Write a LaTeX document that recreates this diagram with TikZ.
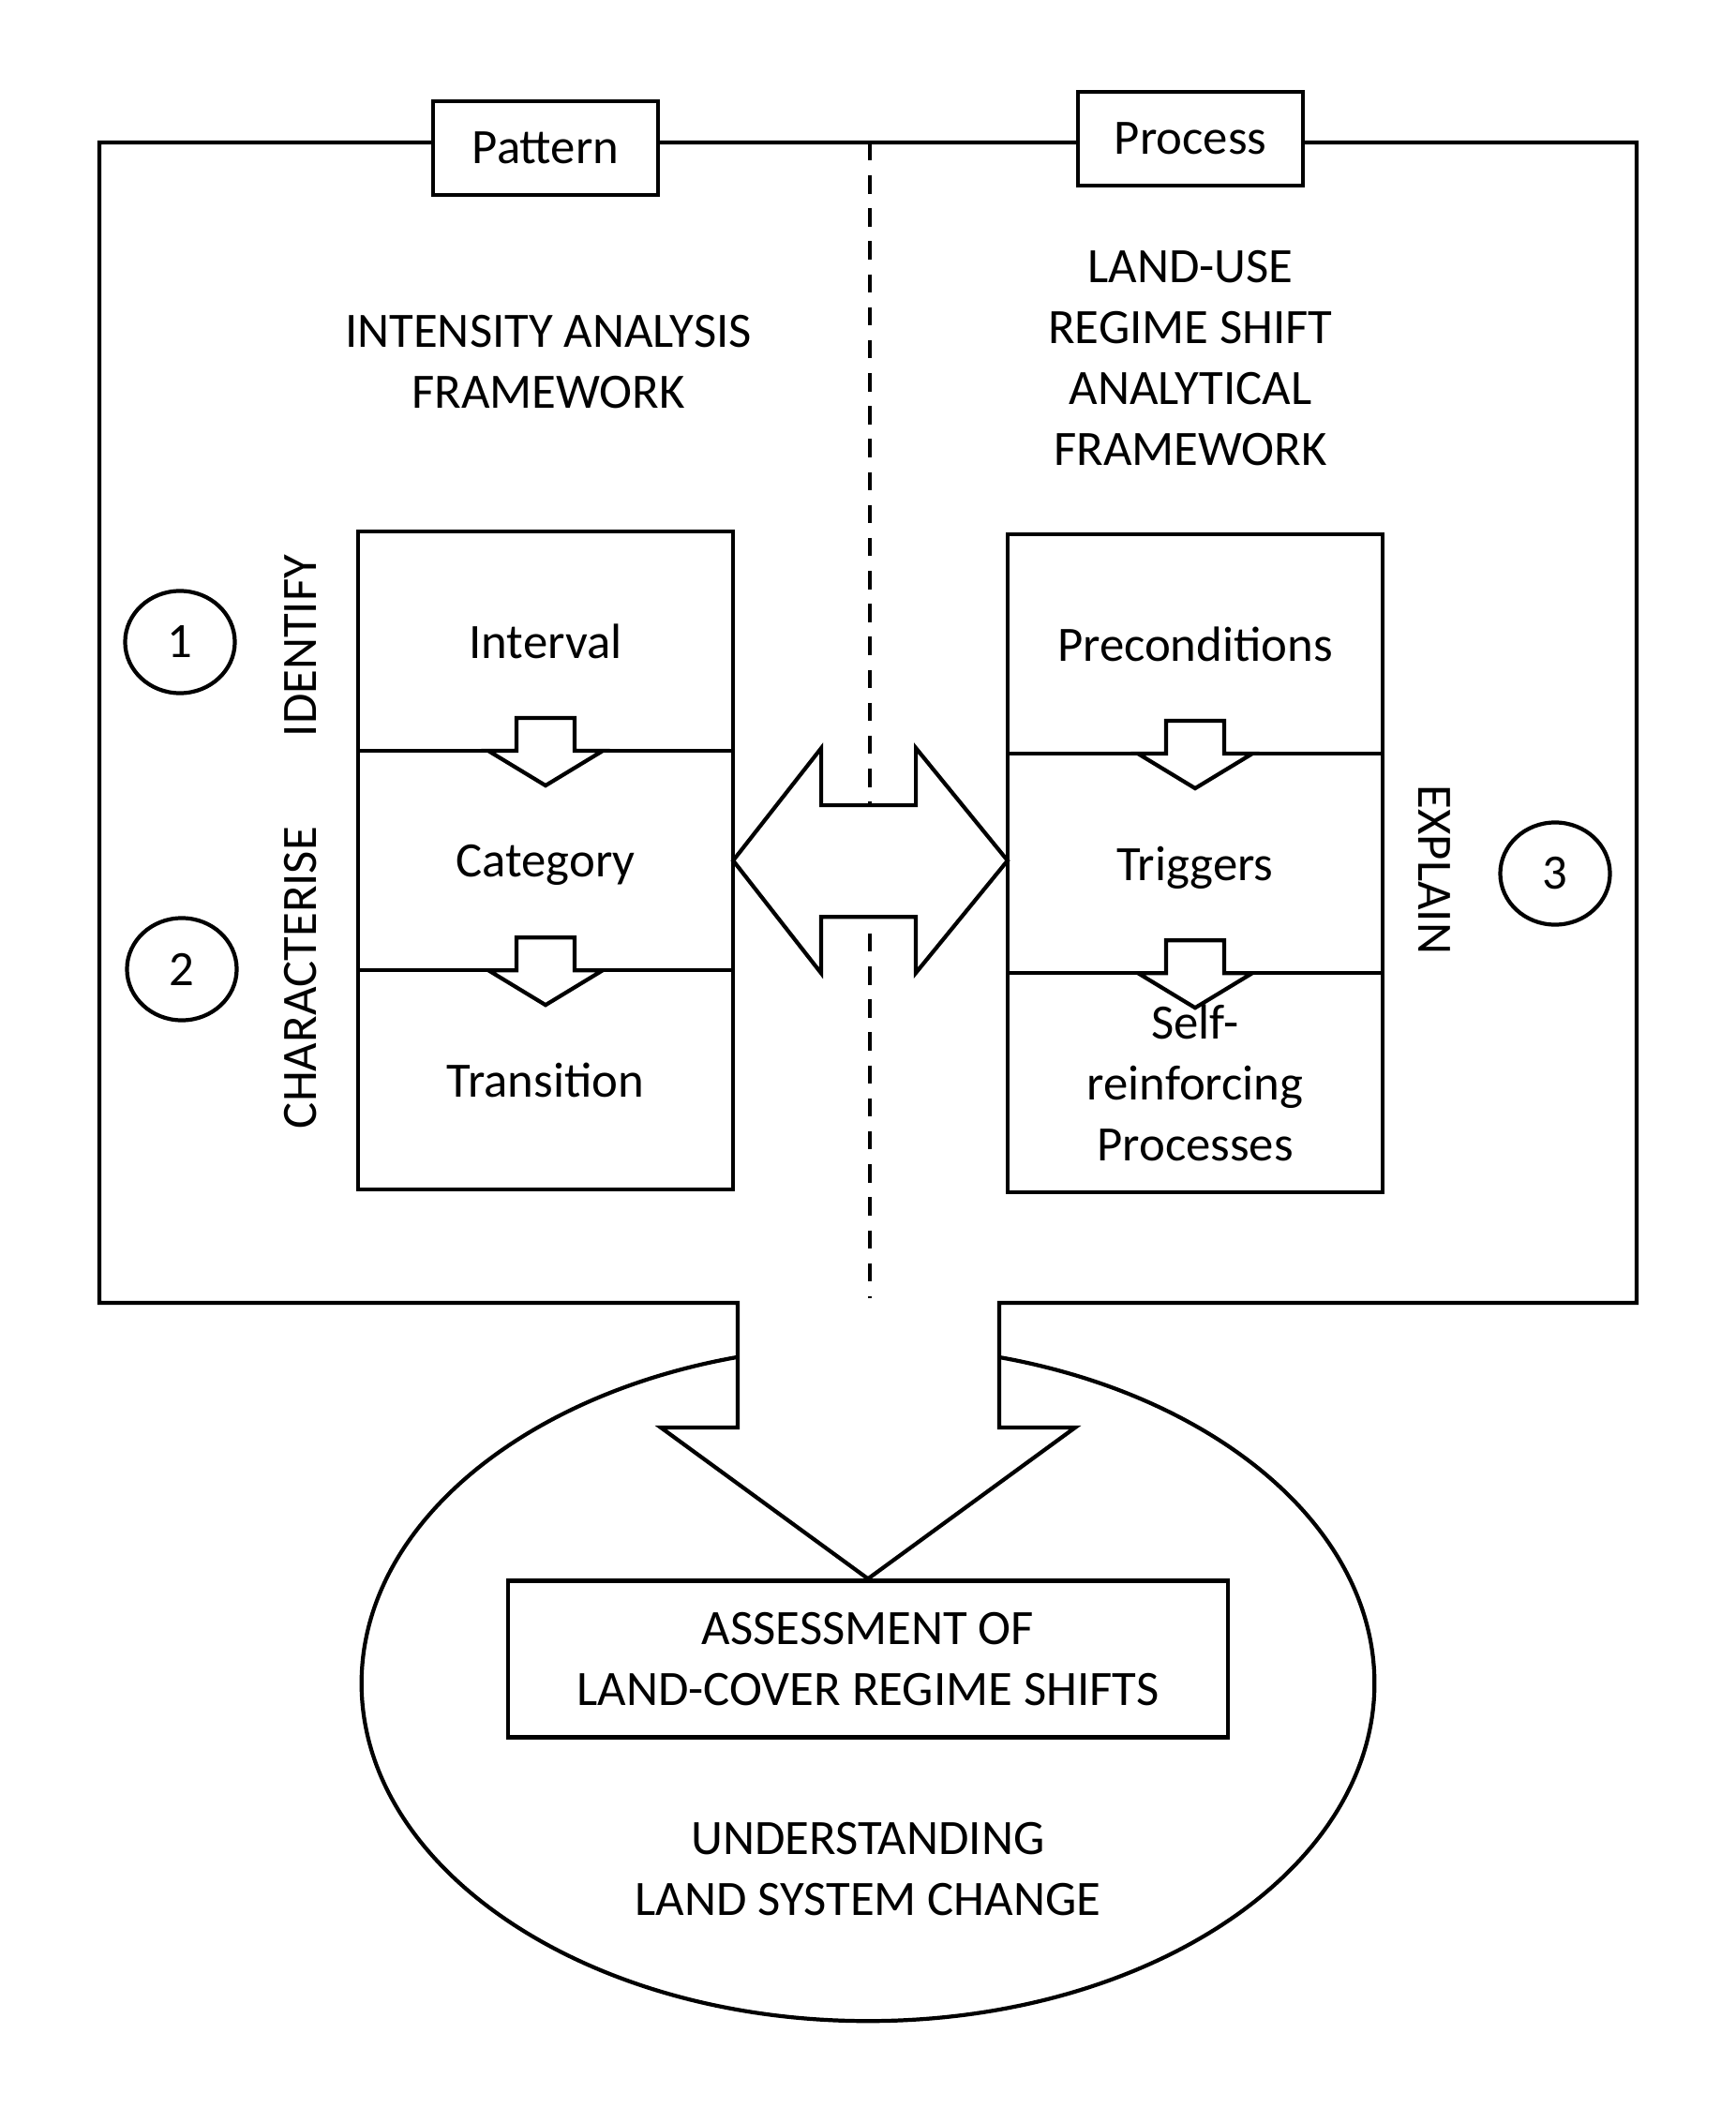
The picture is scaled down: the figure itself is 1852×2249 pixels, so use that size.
\documentclass[tikz,border=0pt]{standalone}
\usepackage{fontspec}
\setmainfont{Carlito}
\usetikzlibrary{positioning,shapes.geometric}

\begin{document}
\begin{tikzpicture}[x=0.01cm,y=-0.01cm,line width=1.2pt,
    every node/.style={font=\fontsize{15}{18.5}\selectfont},
    rowbox/.style={draw,fill=white,minimum width=4cm,minimum height=2.34cm,outer sep=0pt,align=center,text depth=0pt},
    tagbox/.style={draw,fill=white,minimum width=2.4cm,minimum height=1cm},
    numcirc/.style={draw,ellipse,minimum width=1.17cm,minimum height=1.09cm,inner sep=0pt},
    fatarrow/.style={draw,fill=white,line join=miter}]
  \useasboundingbox (0,0) rectangle (1852,2249);

  % pattern / process divider
  \draw[dash pattern=on 5.5pt off 4.5pt] (928,152) -- (928,1390);

  % bottom part
  \node[draw,ellipse,minimum width=10.8cm,minimum height=7.2cm] (lsc) at (926,1796) {};
  \node[align=center] (und) at (926,1994) {UNDERSTANDING\\LAND SYSTEM CHANGE};
  \node[draw,minimum width=7.68cm,minimum height=1.67cm,align=center] (asm) at (926,1770) {ASSESSMENT OF\\LAND-COVER REGIME SHIFTS};

  % frame, opening into the big arrow
  \fill[white] (787,1385) -- (787,1523) -- (705,1523) -- (asm.north) -- (1147,1523) -- (1066,1523) -- (1066,1385) -- cycle;
  \draw[line join=miter] (787,1390) -- (106,1390) -- (106,152) -- (1746,152) -- (1746,1390) -- (1066,1390)
    -- (1066,1523) -- (1147,1523) -- (asm.north) -- (705,1523) -- (787,1523) -- cycle;

  \node[tagbox] (pat) at (582,158) {Pattern};
  \node[tagbox] (pro) at (1270,148) {Process};

  \node[align=center] (iaf) at (585,386) {INTENSITY ANALYSIS\\FRAMEWORK};
  \node[align=center] (rsf) at (1270,382) {LAND-USE\\REGIME SHIFT\\ANALYTICAL\\FRAMEWORK};

  % left column
  \node[rowbox] (int) at (582,684) {Interval};
  \node[rowbox,below=0pt of int] (cat) {Category};
  \node[rowbox,below=0pt of cat] (tra) {Transition};

  % right column
  \node[rowbox] (pre) at (1275,687) {Preconditions};
  \node[rowbox,below=0pt of pre] (trg) {Triggers};
  \node[rowbox,below=0pt of trg] (srp) {Self-\\reinforcing\\Processes};

  % small step arrows
  \foreach \n in {int,cat,pre,trg}
    \filldraw[fill=white,line join=miter] (\n.south) ++(-31,0) -- ++(0,-35) -- ++(62,0) -- ++(0,35)
      -- ++(30,0) -- ++(-61,37) -- ++(-61,-37) -- cycle;

  % two-way arrow
  \draw[fatarrow] (cat.east) -- ++(94,-120) -- ++(0,61) -- ++(101,0) -- ++(0,-61) -- (cat.east -| trg.west)
    -- ++(-98,120) -- ++(0,-60) -- ++(-101,0) -- ++(0,60) -- cycle;

  \node[numcirc] (one) at (192,685) {1};
  \node[numcirc] (two) at (194,1034) {2};
  \node[numcirc] (three) at (1659,932) {3};
  \node[rotate=90] (idf) at (321,689) {IDENTIFY};
  \node[rotate=90] (chr) at (321,1043) {CHARACTERISE};
  \node[rotate=-90] (exp) at (1530,928) {EXPLAIN};
\end{tikzpicture}
\end{document}
